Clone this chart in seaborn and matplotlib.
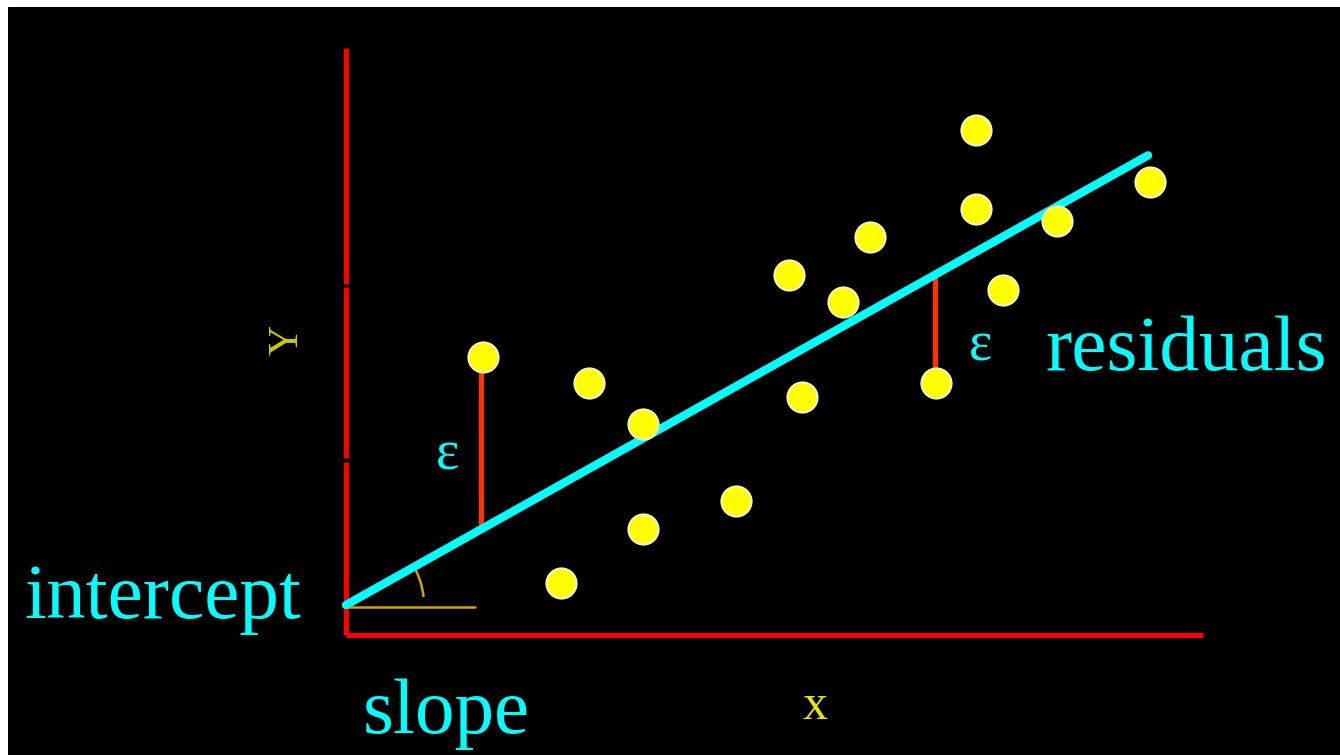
import numpy as np
import pandas as pd
import matplotlib
matplotlib.use("Agg")
import matplotlib.pyplot as plt
from matplotlib.patches import Arc
import seaborn as sns

# observations (data units: x 0..10, y 0..10)
obs_x = [1.60, 2.84, 3.47, 3.47, 2.51, 4.55, 5.17, 5.32, 5.80, 6.11, 7.35, 7.35, 7.67, 6.88, 8.30, 9.38]
obs_y = [4.73, 4.29, 3.59, 1.80, 0.88, 2.28, 6.12, 4.05, 5.66, 6.77, 8.59, 7.24, 5.87, 4.29, 7.04, 7.70]

# fitted line
intercept = 0.51
slope = 0.817
line_x = [0.0, 9.36]

# residuals shown
resid_x = [1.58, 6.87]
resid_y = [4.73, 4.29]

# axis breaks (tick gaps on the y axis)
y_axis_segments = [(0.0, 2.95), (3.01, 5.91), (5.97, 9.98)]

sns.set_style("dark")
plt.rcParams["font.family"] = ["Liberation Serif", "DejaVu Serif"]

fig = plt.figure(figsize=(13.4, 7.55), dpi=100, facecolor="white")
ax = fig.add_axes([8 / 1340, 0, 1332 / 1340, 748 / 755])
ax.set_facecolor("black")
ax.set_xlim(-3.944, 11.60)
ax.set_ylim(-2.04, 10.68)
ax.set_axis_off()
ax.add_patch(plt.Rectangle((0, 0), 1, 1, transform=ax.transAxes, color="black", zorder=0))

# axes drawn in red
for y0, y1 in y_axis_segments:
    ax.plot([0, 0], [y0, y1], color="#ff0000", lw=3.6, solid_capstyle="butt", zorder=2)
ax.plot([0, 10.0], [0, 0], color="#ff0000", lw=3.6, solid_capstyle="butt", zorder=2)

# slope angle marker
ax.plot([0, 1.5], [0.48, 0.48], color="#d9a000", lw=1.8, zorder=3)
ax.add_patch(Arc((0, intercept), 2 * 78 / 85.7, 2 * 78 / 58.8, theta1=8.7, theta2=36.6,
                 color="#d9a000", lw=1.8, zorder=3))

# residual segments
for rx, ry in zip(resid_x, resid_y):
    ax.plot([rx, rx], [ry, intercept + slope * rx], color="#ff3300", lw=3.8, zorder=3)

# regression line
line_df = pd.DataFrame({"x": line_x, "y": [intercept + slope * v for v in line_x]})
sns.lineplot(data=line_df, x="x", y="y", color="#00ffff", lw=6, ax=ax, zorder=4)

# points
pts = pd.DataFrame({"x": obs_x, "y": obs_y})
sns.scatterplot(data=pts, x="x", y="y", s=470, color="#ffff00", edgecolor="#f2f2c0",
                linewidth=1.5, ax=ax, zorder=5)

cyan = "#00ffff"
ax.text(8.16, 4.51, "residuals", color=cyan, fontsize=57, ha="left", va="baseline")
ax.text(-3.75, 0.29, "intercept", color=cyan, fontsize=57, ha="left", va="baseline")
ax.text(0.198, -1.67, "slope", color=cyan, fontsize=57, ha="left", va="baseline")
ax.text(1.18, 3.06, "ε", color=cyan, fontsize=40, ha="center", va="center")
ax.text(7.40, 4.91, "ε", color=cyan, fontsize=40, ha="center", va="center")
ax.text(5.47, -1.22, "x", color="#e6e600", fontsize=36, ha="center", va="center")
ax.text(-0.69, 5.02, "Y", color="#cccc00", fontsize=30, ha="center", va="center", rotation=90)

ax.set_xlabel("")
ax.set_ylabel("")
fig.savefig("out.png", dpi=100, facecolor="white")
